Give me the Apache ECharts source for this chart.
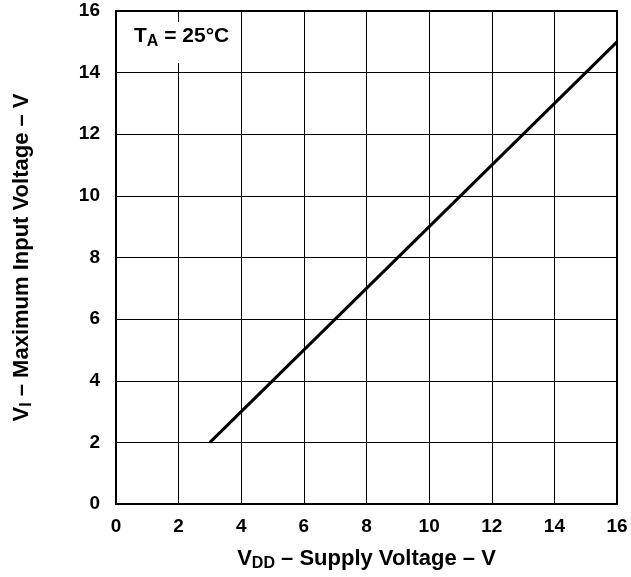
<!DOCTYPE html>
<html>
<head>
<meta charset="utf-8">
<script src="https://cdn.jsdelivr.net/npm/echarts@6/dist/echarts.min.js"></script>
<style>
html,body{margin:0;padding:0;background:#fff;}
#chart{width:631px;height:577px;}
</style>
</head>
<body>
<div id="chart"></div>
<script>
// supply voltage (x) vs max input voltage (y)
var vdd = [3, 16];
var vin = [2, 15];
var xTicks = [0, 2, 4, 6, 8, 10, 12, 14, 16];
var yTicks = [0, 2, 4, 6, 8, 10, 12, 14, 16];

var FONT = '"Liberation Sans", Arial, sans-serif';
var myChart = echarts.init(document.getElementById('chart'));

myChart.setOption({
    animation: false,
    backgroundColor: '#fff',
    grid: {
        left: 116,
        top: 11,
        right: 14,
        bottom: 65,
        show: true,
        borderColor: '#000',
        borderWidth: 2
    },
    xAxis: {
        type: 'value',
        min: xTicks[0],
        max: xTicks[xTicks.length - 1],
        interval: 2,
        axisLine: {show: false},
        axisTick: {show: false},
        splitLine: {show: true, lineStyle: {color: '#000', width: 1}},
        axisLabel: {color: '#000', fontFamily: FONT, fontWeight: 'bold', fontSize: 19, margin: 13},
        name: '{m|V}{s|DD}{m| – Supply Voltage – V}',
        nameLocation: 'middle',
        nameGap: 42,
        nameTextStyle: {
            rich: {
                m: {color: '#000', fontFamily: FONT, fontWeight: 'bold', fontSize: 22},
                s: {color: '#000', fontFamily: FONT, fontWeight: 'bold', fontSize: 16, verticalAlign: 'bottom', padding: [10, 0, 0, 0]}
            }
        }
    },
    yAxis: {
        type: 'value',
        min: yTicks[0],
        max: yTicks[yTicks.length - 1],
        interval: 2,
        axisLine: {show: false},
        axisTick: {show: false},
        splitLine: {show: true, lineStyle: {color: '#000', width: 1}},
        axisLabel: {color: '#000', fontFamily: FONT, fontWeight: 'bold', fontSize: 19, margin: 16},
        name: '{m|V}{s|I}{m| – Maximum Input Voltage – V}',
        nameLocation: 'middle',
        nameRotate: 90,
        nameGap: 81,
        nameTextStyle: {
            rich: {
                m: {color: '#000', fontFamily: FONT, fontWeight: 'bold', fontSize: 22},
                s: {color: '#000', fontFamily: FONT, fontWeight: 'bold', fontSize: 16, verticalAlign: 'bottom', padding: [10, 0, 0, 0]}
            }
        }
    },
    series: [
        {
            type: 'line',
            data: vdd.map(function (x, i) { return [x, vin[i]]; }),
            symbol: 'none',
            lineStyle: {color: '#000', width: 3}
        }
    ],
    graphic: [
        {
            type: 'rect',
            left: 127,
            top: 22,
            shape: {width: 108, height: 41},
            style: {fill: '#fff'},
            z: 100
        },
        {
            type: 'text',
            left: 134,
            top: 26,
            z: 101,
            style: {
                text: '{m|T}{s|A}{m| = 25°C}',
                rich: {
                    m: {fill: '#000', fontFamily: FONT, fontWeight: 'bold', fontSize: 21},
                    s: {fill: '#000', fontFamily: FONT, fontWeight: 'bold', fontSize: 16, verticalAlign: 'bottom', padding: [10, 0, 0, 0]}
                }
            }
        }
    ]
});
</script>
</body>
</html>
